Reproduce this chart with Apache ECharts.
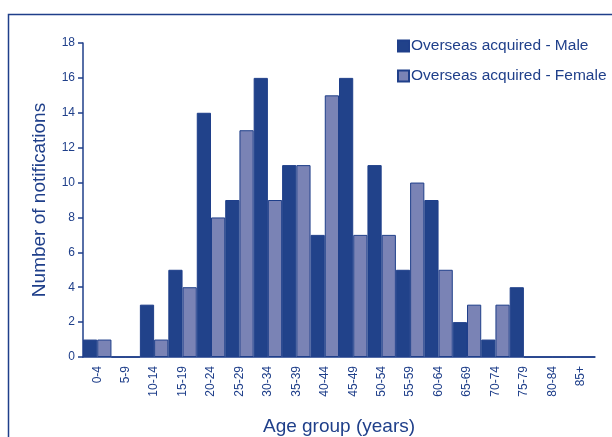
<!DOCTYPE html>
<html>
<head>
<meta charset="utf-8">
<script src="https://cdn.jsdelivr.net/npm/echarts@6/dist/echarts.min.js"></script>
<style>
  html, body { margin: 0; padding: 0; background: #fff; }
  #chart { width: 612px; height: 437px; }
</style>
</head>
<body>
<div id="chart"></div>
<script>
const ageGroups = ['0-4', '5-9', '10-14', '15-19', '20-24', '25-29', '30-34', '35-39', '40-44',
  '45-49', '50-54', '55-59', '60-64', '65-69', '70-74', '75-79', '80-84', '85+']
const male = [1, 0, 3, 5, 14, 9, 16, 11, 7, 16, 11, 5, 9, 2, 1, 4, 0, 0]
const female = [1, 0, 1, 4, 8, 13, 9, 11, 15, 7, 7, 10, 5, 3, 3, 0, 0, 0]

const navy = '#1f3f8a'

const chart = echarts.init(document.getElementById('chart'))

chart.setOption({
  animation: false,
  textStyle: { fontFamily: 'Liberation Sans, Arial, sans-serif', color: navy },
  graphic: [{
    type: 'rect',
    shape: { x: 8.5, y: 14.5, width: 700, height: 500 },
    style: { fill: 'none', stroke: navy, lineWidth: 1.5 },
    silent: true
  }],
  legend: {
    orient: 'vertical',
    left: 392,
    top: 33,
    itemWidth: 11,
    itemHeight: 11,
    itemGap: 14,
    icon: 'rect',
    textStyle: { fontSize: 15.5, color: navy, padding: [0, 0, 0, -3] },
    data: ['Overseas acquired - Male', 'Overseas acquired - Female']
  },
  grid: { left: 83, right: 17, top: 43, bottom: 80, containLabel: false, outerBoundsMode: 'none' },
  xAxis: {
    type: 'category',
    data: ageGroups,
    name: 'Age group (years)',
    nameLocation: 'middle',
    nameGap: 60,
    nameTextStyle: { fontSize: 19, color: navy },
    axisLine: { lineStyle: { color: navy, width: 1.5 } },
    axisTick: { length: 6, lineStyle: { color: navy, width: 1.5 } },
    axisLabel: { rotate: 90, fontSize: 12, color: navy, margin: 9 }
  },
  yAxis: {
    type: 'value',
    min: 0,
    max: 18,
    interval: 2,
    name: 'Number of notifications',
    nameLocation: 'middle',
    nameGap: 34,
    nameTextStyle: { fontSize: 19, color: navy },
    splitLine: { show: false },
    axisLine: { show: true, lineStyle: { color: navy, width: 1.5 } },
    axisTick: { show: true, length: 5, lineStyle: { color: navy, width: 1.5 } },
    axisLabel: { fontSize: 12, color: navy, margin: 8 }
  },
  series: [
    {
      name: 'Overseas acquired - Male',
      type: 'bar',
      data: male,
      barGap: '0%',
      barCategoryGap: '0%',
      itemStyle: { color: '#21428a', borderColor: navy, borderWidth: 1 }
    },
    {
      name: 'Overseas acquired - Female',
      type: 'bar',
      data: female,
      itemStyle: { color: '#7a83b5', borderColor: navy, borderWidth: 1 }
    }
  ]
})
</script>
</body>
</html>
